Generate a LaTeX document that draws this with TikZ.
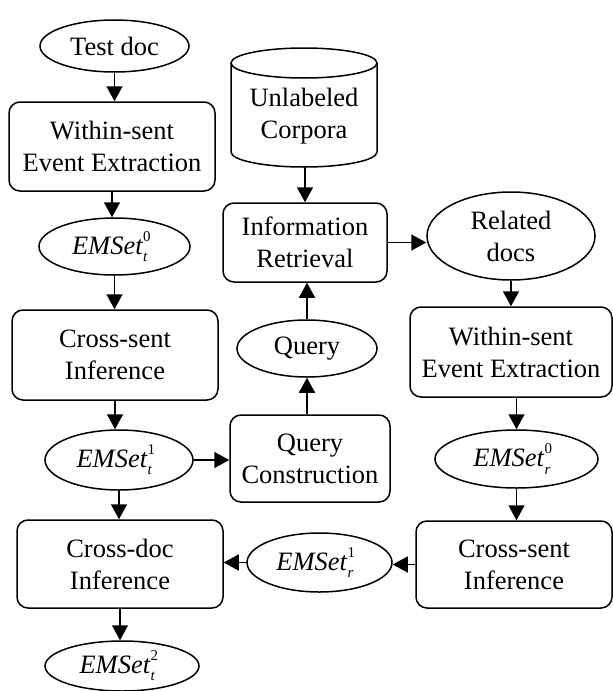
\documentclass[tikz,border=0pt]{standalone}
\usepackage{fontspec}
\setmainfont{Liberation Serif}
\usetikzlibrary{shapes.geometric,arrows.meta}

% EMSet with stacked superscript and subscript
\newcommand{\emset}[2]{\textit{EMSet}\makebox[0pt][l]{\raisebox{0.48em}{\fontsize{15}{15}\selectfont #2}}\raisebox{-0.28em}{\fontsize{15}{15}\selectfont\textit{#1}}\hspace{0.35em}}

\tikzset{
  base/.style={draw, line width=1.5pt, align=center, inner sep=0pt,
    font=\fontsize{26.5}{32}\selectfont},
  procbox/.style={base, rectangle, rounded corners=11pt},
  databox/.style={base, ellipse},
  arr/.style={line width=1.5pt, -{Triangle[length=15pt,width=16pt]}},
}

\begin{document}
\begin{tikzpicture}
\useasboundingbox (0,0) rectangle (613pt,-691pt);
\begin{scope}[x=1pt,y=1pt]
  % left column: test document
  \node[databox, minimum width=149pt, minimum height=52pt] (testdoc) at (114.5,-46) {Test doc};
  \node[procbox, minimum width=206pt, minimum height=89pt] (ws1) at (112,-146.5) {Within-sent\\Event Extraction};
  \node[databox, minimum width=151pt, minimum height=57pt] (et0) at (114.5,-246.5) {\emset{t}{0}};
  \node[procbox, minimum width=206pt, minimum height=90pt] (cs1) at (115,-355) {Cross-sent\\Inference};
  \node[databox, minimum width=148pt, minimum height=60pt] (et1) at (119,-460) {\emset{t}{1}};
  \node[procbox, minimum width=206pt, minimum height=88pt] (cd) at (120,-564) {Cross-doc\\Inference};
  \node[databox, minimum width=154pt, minimum height=50pt] (et2) at (122,-666) {\emset{t}{2}};

  % middle column: corpus, retrieval, query
  \draw[line width=1.5pt] (231,-63) -- (231,-152)
    arc[start angle=180, end angle=360, x radius=73, y radius=15] -- (377,-63);
  \draw[line width=1.5pt] (304,-63) ellipse [x radius=73, y radius=15];
  \node[base, draw=none] (corpora) at (304,-116) {Unlabeled\\Corpora};
  \coordinate (corpbot) at (305,-167);
  \node[procbox, minimum width=164pt, minimum height=79pt] (ir) at (305,-242.5) {Information\\Retrieval};
  \node[databox, minimum width=140pt, minimum height=57pt] (query) at (307,-348.5) {Query};
  \node[procbox, minimum width=160pt, minimum height=87pt] (qc) at (310,-458.5) {Query\\Construction};
  \node[databox, minimum width=145pt, minimum height=59pt] (er1) at (319.5,-562.5) {\emset{r}{1}};

  % right column: related documents
  \node[databox, minimum width=168pt, minimum height=88pt] (related) at (511,-236) {Related\\docs};
  \node[procbox, minimum width=202pt, minimum height=90pt] (ws2) at (511,-352) {Within-sent\\Event Extraction};
  \node[databox, minimum width=163pt, minimum height=58pt] (er0) at (516.5,-459) {\emset{r}{0}};
  \node[procbox, minimum width=196pt, minimum height=87pt] (cs2) at (514,-564.5) {Cross-sent\\Inference};

  % connectors
  \draw[arr] (testdoc.south) -- (testdoc.south |- ws1.north);
  \draw[arr] (ws1.south) -- (ws1.south |- et0.north);
  \draw[arr] (et0.south) -- (et0.south |- cs1.north);
  \draw[arr] (cs1.south) -- (cs1.south |- et1.north);
  \draw[arr] (et1.south) -- (et1.south |- cd.north);
  \draw[arr] (cd.south) -- (cd.south |- et2.north);
  \draw[arr] (et1.east) -- (et1.east -| qc.west);
  \draw[arr] (query.south |- qc.north) -- (query.south);
  \draw[arr] (query.north) -- (query.north |- ir.south);
  \draw[arr] (corpbot) -- (corpbot |- ir.north);
  \draw[arr] (ir.east) -- (ir.east -| related.west);
  \draw[arr] (related.south) -- (related.south |- ws2.north);
  \draw[arr] (ws2.south -| er0) -- (er0.north);
  \draw[arr] (er0.south) -- (er0.south |- cs2.north);
  \draw[arr] (cs2.west) -- (cs2.west -| er1.east);
  \draw[arr] (er1.west) -- (er1.west -| cd.east);
\end{scope}
\end{tikzpicture}
\end{document}
